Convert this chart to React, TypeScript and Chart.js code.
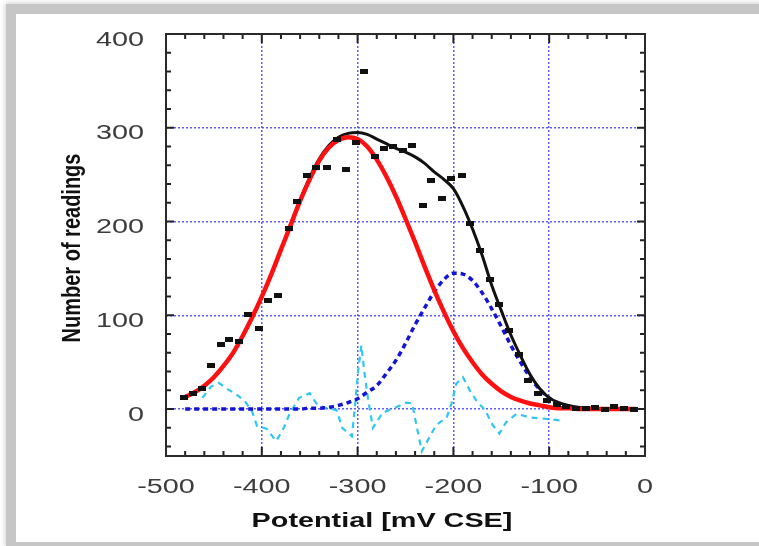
import React, { useEffect, useRef } from "react";
import { Chart, registerables } from "chart.js";

Chart.register(...registerables);

// Axis ticks and labels
const X_TICKS = [-500, -400, -300, -200, -100, 0];
const X_LABELS = ["-500", "-400", "-300", "-200", "-100", "0"];
const Y_TICKS = [0, 100, 200, 300, 400];
const Y_LABELS = ["0", "100", "200", "300", "400"];
const X_TITLE = "Potential [mV CSE]";
const Y_TITLE = "Number of readings";

// Measured histogram (black squares)
const DATA_X = [-481, -472, -462, -453, -443, -434, -424, -414, -403, -394, -383, -372, -363, -353, -343, -332, -322, -312, -302, -293, -282, -272, -263, -253, -243, -232, -223, -212, -202, -191, -183, -172, -162, -152, -142, -132, -122, -112, -102, -92, -82, -72, -62, -52, -42, -32, -22, -12];
const DATA_Y = [12, 17, 22, 47, 69, 74, 72, 101, 86, 116, 121, 193, 221, 249, 258, 258, 288, 256, 284, 360, 269, 278, 280, 276, 281, 217, 244, 225, 246, 249, 198, 169, 138, 112, 84, 58, 30, 17, 9, 5, 3, 1, 1, 2, 0, 3, 1, 0];

// Fitted curves
const FIT_X = [-480, -470, -460, -450, -440, -430, -420, -410, -400, -390, -380, -370, -360, -350, -340, -330, -320, -310, -300, -290, -280, -270, -260, -250, -240, -230, -220, -210, -200, -190, -180, -170, -160, -150, -140, -130, -120, -110, -100, -90, -80, -70, -60, -50, -40, -30, -20, -10];
const RED_Y = [13, 18, 25, 34, 46, 60, 78, 98, 120, 144, 170, 196, 222, 245, 265, 279, 287, 290, 288, 280, 266, 248, 227, 203, 178, 152, 127, 104, 83, 65, 50, 37, 27, 19, 13, 9, 6, 4, 2, 1, 1, 0, 0, 0, 0, 0, 0, 0];
const BLUE_Y = [0, 0, 0, 0, 0, 0, 0, 0, 0, 0, 0, 0, 0, 1, 1, 2, 4, 7, 11, 18, 25, 38, 52, 70, 90, 108, 125, 138, 145, 144, 137, 124, 107, 88, 68, 50, 34, 21, 12, 6, 3, 1, 0, 0, 0, 0, 0, 0];
const BLACK_Y = [13, 18, 25, 34, 46, 60, 78, 98, 120, 144, 170, 197, 223, 247, 267, 281, 290, 294, 295, 293, 288, 283, 278, 274, 269, 262, 253, 245, 235, 216, 192, 164, 132, 105, 79, 57, 37, 22, 12, 7, 4, 2, 1, 1, 0, 0, 0, 0];

// Residuals (cyan dashed)
const RESID_X = [-462, -453, -445, -437, -427, -418, -410, -405, -395, -385, -377, -371, -361, -350, -343, -333, -322, -316, -306, -303, -299, -296, -293, -289, -284, -274, -260, -249, -243, -239, -233, -225, -218, -207, -202, -197, -190, -183, -176, -167, -159, -152, -145, -134, -120, -107, -89];
const RESID_Y = [12, 24, 28, 22, 16, 9, -3, -18, -21, -34, -20, -5, 12, 17, 6, 1, -1, -20, -29, 0, 45, 68, 40, 10, -20, -4, 2, 7, 6, -15, -45, -30, -17, -9, 6, 27, 34, 20, 9, -1, -17, -26, -14, -5, -9, -10, -12];

const X_MIN = -500, X_MAX = 0, Y_MIN = -50, Y_MAX = 400;
const STRETCH = 1.44;

const pts = (xs: number[], ys: number[]) => xs.map((x, i) => ({ x, y: ys[i] }));

function drawStretched(ctx: CanvasRenderingContext2D, text: string, x: number, y: number, sx: number, align: CanvasTextAlign) {
  ctx.save();
  ctx.translate(x, y);
  ctx.scale(sx, 1);
  ctx.textAlign = align;
  ctx.textBaseline = "middle";
  ctx.fillText(text, 0, 0);
  ctx.restore();
}

const framePlugin = {
  id: "framePlugin",
  afterDraw(chart: any) {
    const ctx: CanvasRenderingContext2D = chart.ctx;
    const a = chart.chartArea;
    const xs = chart.scales.x;
    const ys = chart.scales.y;
    ctx.save();
    // inward ticks
    ctx.strokeStyle = "#222";
    ctx.lineWidth = 2;
    ctx.beginPath();
    for (let v = X_MIN; v <= X_MAX; v += 20) {
      const px = xs.getPixelForValue(v);
      const len = v % 100 === 0 ? 9 : 5;
      ctx.moveTo(px, a.bottom);
      ctx.lineTo(px, a.bottom - len);
      ctx.moveTo(px, a.top);
      ctx.lineTo(px, a.top + len);
    }
    for (let v = -40; v <= Y_MAX; v += 20) {
      const py = ys.getPixelForValue(v);
      const len = v % 100 === 0 ? 8 : 5;
      ctx.moveTo(a.left, py);
      ctx.lineTo(a.left + len, py);
      ctx.moveTo(a.right, py);
      ctx.lineTo(a.right - len, py);
    }
    ctx.stroke();
    // frame
    ctx.strokeStyle = "#2a2a2a";
    ctx.lineWidth = 2;
    ctx.strokeRect(a.left, a.top, a.right - a.left, a.bottom - a.top);

    // tick labels
    ctx.fillStyle = "#3c3c3c";
    ctx.font = '20px "Liberation Sans", Arial, sans-serif';
    X_TICKS.forEach((v, i) => {
      drawStretched(ctx, X_LABELS[i], xs.getPixelForValue(v), a.bottom + 31, STRETCH, "center");
    });
    Y_TICKS.forEach((v, i) => {
      drawStretched(ctx, Y_LABELS[i], a.left - 22, ys.getPixelForValue(v) + 6, STRETCH, "right");
    });

    // titles
    ctx.fillStyle = "#111";
    ctx.font = 'bold 20px "Liberation Sans", Arial, sans-serif';
    drawStretched(ctx, X_TITLE, a.left + 216, a.bottom + 65, STRETCH, "center");

    ctx.save();
    ctx.translate(73, (a.top + a.bottom) / 2 + 3);
    ctx.rotate(-Math.PI / 2);
    ctx.scale(1, 1.3);
    ctx.textAlign = "center";
    ctx.textBaseline = "middle";
    ctx.font = 'bold 20px "Liberation Sans", Arial, sans-serif';
    ctx.fillText(Y_TITLE, 0, 0);
    ctx.restore();

    ctx.restore();
  },
};

export default function App() {
  const ref = useRef<HTMLCanvasElement | null>(null);

  useEffect(() => {
    if (!ref.current) return;
    const sq = document.createElement("canvas");
    sq.width = 8;
    sq.height = 5;
    const sctx = sq.getContext("2d")!;
    sctx.fillStyle = "#111";
    sctx.fillRect(0, 0, 8, 5);

    const gridColor = (ticks: number[]) => (c: any) => {
      const v = c.tick ? c.tick.value : null;
      if (v === null) return "transparent";
      if (v === ticks[0] && ticks === X_TICKS) return "transparent";
      if (v === ticks[ticks.length - 1]) return "transparent";
      return "rgba(50,50,255,0.8)";
    };

    const chart = new Chart(ref.current, {
      type: "scatter",
      data: {
        datasets: [
          {
            label: "data",
            data: pts(DATA_X, DATA_Y),
            pointStyle: sq as any,
            pointRadius: 4,
            showLine: false,
            order: 0,
          } as any,
          {
            label: "fit 1",
            data: pts(FIT_X, RED_Y),
            showLine: true,
            borderColor: "#ff1010",
            borderWidth: 4.5,
            pointRadius: 0,
            cubicInterpolationMode: "monotone",
            order: 1,
          },
          {
            label: "total",
            data: pts(FIT_X, BLACK_Y),
            showLine: true,
            borderColor: "#111",
            borderWidth: 3,
            pointRadius: 0,
            cubicInterpolationMode: "monotone",
            order: 2,
          },
          {
            label: "fit 2",
            data: pts(FIT_X, BLUE_Y),
            showLine: true,
            borderColor: "#1414d6",
            borderWidth: 3.5,
            borderDash: [5, 4],
            pointRadius: 0,
            cubicInterpolationMode: "monotone",
            order: 3,
          },
          {
            label: "residual",
            data: pts(RESID_X, RESID_Y),
            showLine: true,
            borderColor: "#2ec6f5",
            borderWidth: 2.2,
            borderDash: [6, 5],
            pointRadius: 0,
            tension: 0,
            order: 4,
          },
        ],
      },
      options: {
        responsive: false,
        animation: false,
        events: [],
        layout: { padding: { left: 166, right: 114, top: 34, bottom: 90 } },
        plugins: { legend: { display: false }, tooltip: { enabled: false } },
        scales: {
          x: {
            type: "linear",
            min: X_MIN,
            max: X_MAX,
            afterBuildTicks: (ax: any) => {
              ax.ticks = X_TICKS.map((v) => ({ value: v }));
            },
            ticks: { display: false },
            grid: { color: gridColor(X_TICKS), lineWidth: 1.5, drawTicks: false },
            border: { display: false, dash: [2, 2] },
            title: { display: false },
          },
          y: {
            type: "linear",
            min: Y_MIN,
            max: Y_MAX,
            afterBuildTicks: (ax: any) => {
              ax.ticks = Y_TICKS.map((v) => ({ value: v }));
            },
            ticks: { display: false },
            grid: { color: gridColor(Y_TICKS), lineWidth: 1.5, drawTicks: false },
            border: { display: false, dash: [2, 2] },
            title: { display: false },
          },
        },
      },
      plugins: [framePlugin],
    });
    return () => chart.destroy();
  }, []);

  return (
    <div style={{ position: "absolute", left: 0, top: 0, width: 759, height: 546, overflow: "hidden", background: "#fff" }}>
      <div
        style={{
          position: "absolute",
          left: 6,
          top: 4,
          width: 800,
          height: 528,
          borderTop: "10px solid #c6c6c6",
          borderLeft: "10px solid #c6c6c6",
          borderBottom: "4px solid #c6c6c6",
          boxShadow: "0 0 5px 1px rgba(0,0,0,0.18)",
          background: "#fff",
        }}
      />
      <canvas ref={ref} width={759} height={546} style={{ position: "absolute", left: 0, top: 0, width: 759, height: 546 }} />
    </div>
  );
}
